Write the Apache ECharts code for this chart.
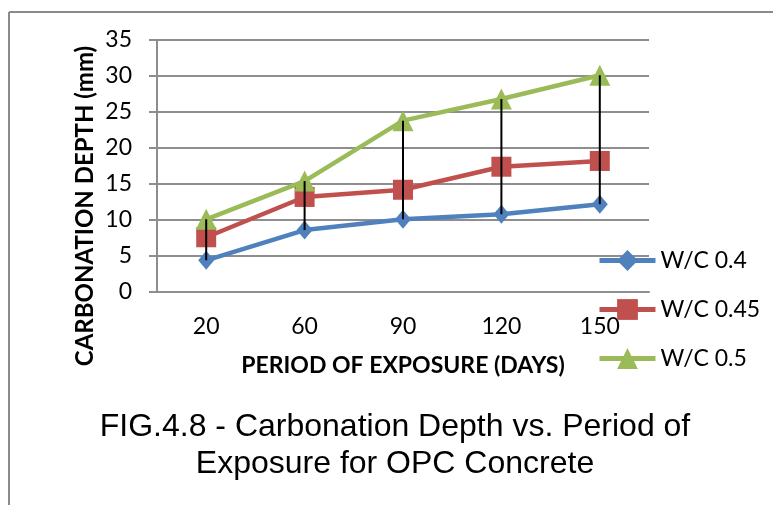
<!DOCTYPE html>
<html>
<head>
<meta charset="utf-8">
<script src="https://cdn.jsdelivr.net/npm/echarts@6/dist/echarts.min.js"></script>
<style>html,body{margin:0;padding:0;background:#fff}#c{width:773px;height:506px}</style>
</head>
<body>
<div id="c"></div>
<script>
var categories = ['20', '60', '90', '120', '150'];
var wc04 = [4.4, 8.6, 10.1, 10.8, 12.2];
var wc045 = [7.6, 13.2, 14.2, 17.4, 18.2];
var wc05 = [10.1, 15.4, 23.8, 26.8, 30.1];
var seriesNames = ['W/C 0.4', 'W/C 0.45', 'W/C 0.5'];
var yTicks = { min: 0, max: 35, interval: 5 };

var hiLo = categories.map(function (c, i) {
  return [i, Math.min(wc04[i], wc045[i], wc05[i]), Math.max(wc04[i], wc045[i], wc05[i])];
});

var chart = echarts.init(document.getElementById('c'));
var tickFont = 'Lato';
chart.setOption({
  animation: false,
  backgroundColor: '#fff',
  title: {
    text: 'FIG.4.8 - Carbonation Depth vs. Period of\nExposure for OPC Concrete',
    left: 390, top: 404, textAlign: 'center',
    textStyle: { fontFamily: 'Liberation Sans', fontSize: 32, fontWeight: 'normal', color: '#000', lineHeight: 37 }
  },
  graphic: [
    { type: 'line', shape: { x1: 9, y1: 12, x2: 773, y2: 12 }, style: { stroke: '#8a8a8a', lineWidth: 2 } },
    { type: 'line', shape: { x1: 9, y1: 12, x2: 9, y2: 505 }, style: { stroke: '#8a8a8a', lineWidth: 2 } },
    { type: 'text', x: 85, y: 206, rotation: Math.PI / 2,
      style: { text: 'CARBONATION DEPTH (mm)', font: 'bold 24px Lato', fill: '#000', textAlign: 'center', textVerticalAlign: 'middle' } }
  ],
  legend: {
    data: seriesNames,
    orient: 'vertical',
    left: 592, top: 244,
    itemWidth: 56, itemHeight: 26, itemGap: 26,
    lineStyle: { width: 5 },
    textStyle: { fontFamily: tickFont, fontSize: 23, color: '#000' }
  },
  grid: { left: 157, right: 124, top: 40, bottom: 214 },
  xAxis: {
    type: 'category', data: categories, boundaryGap: true,
    axisLine: { show: true, lineStyle: { color: '#8e8e8e', width: 2 } },
    axisTick: { show: false },
    axisLabel: { color: '#000', fontFamily: tickFont, fontSize: 23, margin: 23 },
    name: 'PERIOD OF EXPOSURE (DAYS)', nameLocation: 'middle', nameGap: 62,
    nameTextStyle: { color: '#000', fontFamily: 'Lato', fontWeight: 'bold', fontSize: 23 }
  },
  yAxis: {
    type: 'value', min: yTicks.min, max: yTicks.max, interval: yTicks.interval,
    axisLine: { show: true, lineStyle: { color: '#8e8e8e', width: 2 } },
    axisTick: { show: true, length: 8, lineStyle: { color: '#8e8e8e', width: 2 } },
    splitLine: { show: true, lineStyle: { color: '#8e8e8e', width: 2 } },
    axisLabel: { color: '#000', fontFamily: tickFont, fontSize: 23, margin: 25 }
  },
  series: [
    { name: seriesNames[0], type: 'line', data: wc04, symbol: 'diamond', symbolSize: [16, 19],
      lineStyle: { color: '#4F81BD', width: 4.5 }, itemStyle: { color: '#4F81BD' }, z: 3 },
    { name: seriesNames[1], type: 'line', data: wc045, symbol: 'rect', symbolSize: 20,
      lineStyle: { color: '#C0504D', width: 4.5 }, itemStyle: { color: '#C0504D' }, z: 3 },
    { name: seriesNames[2], type: 'line', data: wc05, symbol: 'triangle', symbolSize: 21,
      lineStyle: { color: '#9BBB59', width: 4.5 }, itemStyle: { color: '#9BBB59' }, z: 3 },
    { name: 'hilo', type: 'custom', z: 10, data: hiLo,
      renderItem: function (params, api) {
        var p1 = api.coord([api.value(0), api.value(1)]);
        var p2 = api.coord([api.value(0), api.value(2)]);
        return { type: 'line', shape: { x1: p1[0], y1: p1[1], x2: p2[0], y2: p2[1] },
          style: { stroke: '#000', lineWidth: 2 } };
      } }
  ]
});
</script>
</body>
</html>
